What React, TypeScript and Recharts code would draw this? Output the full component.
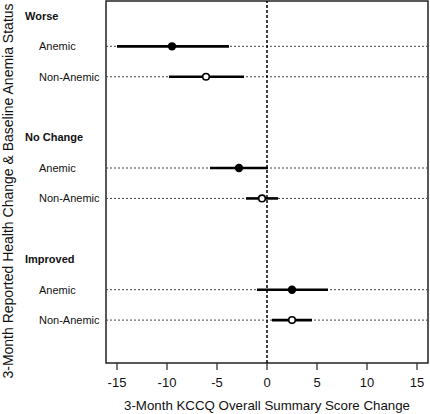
import {
  ScatterChart,
  Scatter,
  XAxis,
  YAxis,
  ReferenceLine,
  ReferenceArea,
} from 'recharts';

const groups = ['Worse', 'No Change', 'Improved'];
const subgroups = ['Anemic', 'Non-Anemic'];
// one value per subgroup row, in order Worse/Anemic, Worse/Non-Anemic, ...
const estimates = [-9.5, -6.1, -2.8, -0.5, 2.5, 2.5];
const lower = [-15, -9.8, -5.7, -2.1, -1.0, 0.5];
const upper = [-3.8, -2.3, 0.1, 1.1, 6.1, 4.5];
const xTicks = [-15, -10, -5, 0, 5, 10, 15];

const font = '"Liberation Sans", Arial, sans-serif';
const yTitle = '3-Month Reported Health Change & Baseline Anemia Status';

// each group takes a header row, two item rows and a blank row
const rowLabels: Record<number, { text: string; header: boolean }> = {};
const points = estimates.map((est, i) => {
  const g = Math.floor(i / 2);
  const s = i % 2;
  const row = g * 4 + 1 + s;
  rowLabels[g * 4] = { text: groups[g], header: true };
  rowLabels[row] = { text: subgroups[s], header: false };
  return { x: est, y: row, lo: lower[i], hi: upper[i], filled: s === 0 };
});
const yTicks = Object.keys(rowLabels).map(Number);

const RowTick = (props: any) => {
  const { y, payload } = props;
  const lab = rowLabels[payload.value];
  if (!lab) return null;
  return (
    <text
      x={lab.header ? 25 : 39}
      y={y}
      dy="0.35em"
      textAnchor="start"
      fontFamily={font}
      fontSize={11}
      fontWeight={lab.header ? 'bold' : 'normal'}
      fill="#111"
    >
      {lab.text}
    </text>
  );
};

const YTitle = () => (
  <text
    x={8}
    y={191}
    dy="0.35em"
    transform="rotate(-90 8 191)"
    textAnchor="middle"
    fontFamily={font}
    fontSize={14}
    fill="#111"
  >
    {yTitle}
  </text>
);

const Dot = (props: any) => {
  const { cx, cy, payload } = props;
  return payload.filled ? (
    <circle cx={cx} cy={cy} r={4.2} fill="#000" />
  ) : (
    <circle cx={cx} cy={cy} r={3.3} fill="#fff" stroke="#000" strokeWidth={1.6} />
  );
};

export default function App() {
  return (
    <div style={{ position: 'absolute', left: 0, top: 0, background: '#fff' }}>
      <ScatterChart
        width={430}
        height={414}
        margin={{ top: 1, right: 2, left: 0, bottom: 0 }}
      >
        <XAxis
          type="number"
          dataKey="x"
          domain={[-16.1, 16.1]}
          ticks={xTicks}
          allowDataOverflow
          axisLine={false}
          tickSize={7}
          tickMargin={8}
          tickLine={{ stroke: '#333', strokeWidth: 1.3 }}
          tick={{ fill: '#111', fontSize: 13, fontFamily: font }}
          height={51}
          label={{
            value: '3-Month KCCQ Overall Summary Score Change',
            position: 'insideBottom',
            offset: 4,
            fill: '#111',
            fontSize: 13.3,
            fontFamily: font,
          }}
        />
        <YAxis
          type="number"
          dataKey="y"
          domain={[-0.49, 11.41]}
          reversed
          ticks={yTicks}
          interval={0}
          allowDataOverflow
          axisLine={false}
          tickLine={false}
          tick={<RowTick />}
          width={106}
          label={{ content: <YTitle /> }}
        />
        <ReferenceArea
          x1={-16.1}
          x2={16.1}
          y1={-0.49}
          y2={11.41}
          fill="none"
          stroke="#222"
          strokeWidth={1.5}
        />
        {points.map((p) => (
          <ReferenceLine
            key={'dot' + p.y}
            y={p.y}
            stroke="#444"
            strokeWidth={1}
            strokeDasharray="2 2"
          />
        ))}
        <ReferenceLine x={0} stroke="#000" strokeWidth={1.5} strokeDasharray="3 2" />
        {points.map((p) => (
          <ReferenceLine
            key={'ci' + p.y}
            segment={[
              { x: p.lo, y: p.y },
              { x: p.hi, y: p.y },
            ]}
            stroke="#000"
            strokeWidth={2.6}
          />
        ))}
        <Scatter data={points} shape={<Dot />} isAnimationActive={false} />
      </ScatterChart>
    </div>
  );
}
